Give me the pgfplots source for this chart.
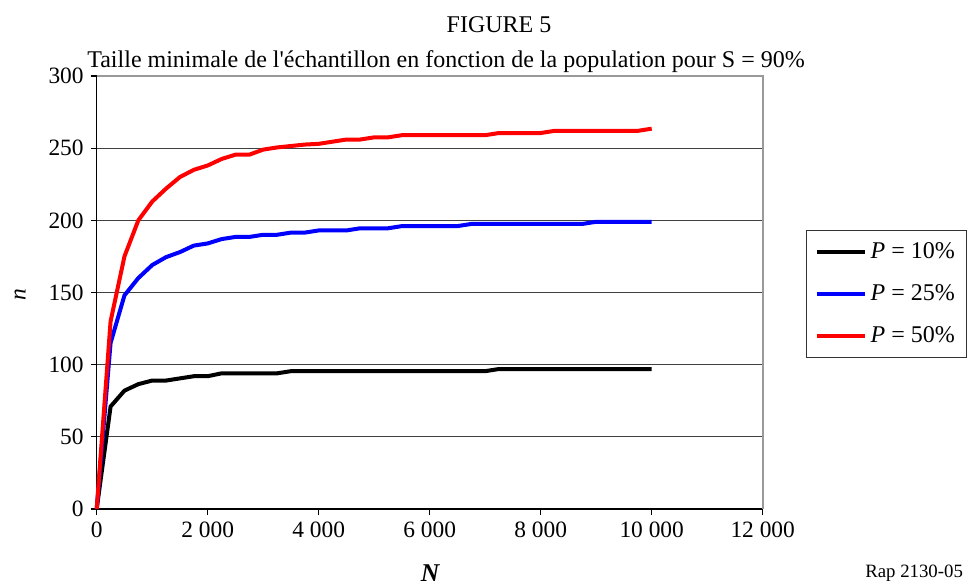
\documentclass[border=0pt]{standalone}
\usepackage{fontspec}
\setmainfont{Liberation Serif}
\usepackage{pgfplots}
\pgfplotsset{compat=1.18}
\usepackage{pgfplotstable}
\newcommand\f{\fontsize{11.7}{14}\selectfont}

\pgfplotstableread{
N p10 p25 p50
0 0 0 0
250 71 115 130
500 82 148 175
750 86.5 160 200
1000 89 169 213
1250 89 174.5 222
1500 90.5 178 230
1750 92 182.5 235
2000 92 184 238
2250 94 187 242.5
2500 94 188.5 245.5
2750 94 188.5 245.5
3000 94 190 249
3250 94 190 250.5
3500 95.5 191.5 251.5
3750 95.5 191.5 252.5
4000 95.5 193 253
4250 95.5 193 254.5
4500 95.5 193 256
4750 95.5 194.5 256
5000 95.5 194.5 257.5
5250 95.5 194.5 257.5
5500 95.5 196 259
5750 95.5 196 259
6000 95.5 196 259
6250 95.5 196 259
6500 95.5 196 259
6750 95.5 197.5 259
7000 95.5 197.5 259
7250 97 197.5 260.5
7500 97 197.5 260.5
7750 97 197.5 260.5
8000 97 197.5 260.5
8250 97 197.5 262
8500 97 197.5 262
8750 97 197.5 262
9000 97 199 262
9250 97 199 262
9500 97 199 262
9750 97 199 262
10000 97 199 263.5
}\data

\begin{document}
\begin{tikzpicture}[x=1pt,y=1pt]
\useasboundingbox (0,0) rectangle (487,292.5);
\begin{axis}[
  at={(48.35pt,38pt)}, anchor=south west,
  width=333pt, height=216.5pt, scale only axis,
  xmin=0, xmax=12000, ymin=0, ymax=300,
  xtick={0,2000,...,12000}, ytick={0,50,...,300},
  scaled x ticks=false,
  axis x line*=bottom, axis y line*=left,
  axis line style={black, line width=0.75pt},
  tick align=outside, major tick length=3pt,
  tick style={black, line width=0.6pt},
  ymajorgrids, grid style={black!75, line width=0.5pt},
  /pgf/number format/assume math mode=true,
  /pgf/number format/1000 sep={\ },
  ticklabel style={font=\f},
  clip=false,
  legend style={at={(1.065,0.645)}, anchor=north west, draw=black!80,
    line width=0.6pt, inner xsep=4pt, inner ysep=4pt, row sep=7.5pt,
    font=\fontsize{12}{14}\selectfont, nodes={inner sep=2pt}},
  legend cell align=left,
  legend image code/.code={\draw[#1, line width=2pt] (0pt,0pt) -- (24pt,0pt);},
]
\draw[black!40, line width=1pt] (rel axis cs:0,1) -- (rel axis cs:1,1) -- (rel axis cs:1,0);
\addplot[black, line width=2pt] table[x=N, y=p10] {\data};
\addlegendentry{\textit{P} = 10\%\hspace{3pt}}
\addplot[blue, line width=2pt] table[x=N, y=p25] {\data};
\addlegendentry{\textit{P} = 25\%\hspace{3pt}}
\addplot[red, line width=2pt] table[x=N, y=p50] {\data};
\addlegendentry{\textit{P} = 50\%\hspace{3pt}}
\end{axis}
\node[font=\fontsize{12}{14}\selectfont, anchor=base] at (249.5,276) {FIGURE 5};
\node[font=\fontsize{12}{14}\selectfont, anchor=base] at (223,258.5) {Taille minimale de l\textquotesingle échantillon en fonction de la population pour S = 90\%};
\node[font=\f\itshape, rotate=90] at (10,145) {n};
\node[font=\fontsize{12.8}{15}\selectfont\bfseries\itshape] at (215,6) {N};
\node[font=\fontsize{9.4}{11}\selectfont, anchor=base east] at (485,4) {Rap 2130-05};
\end{tikzpicture}
\end{document}
